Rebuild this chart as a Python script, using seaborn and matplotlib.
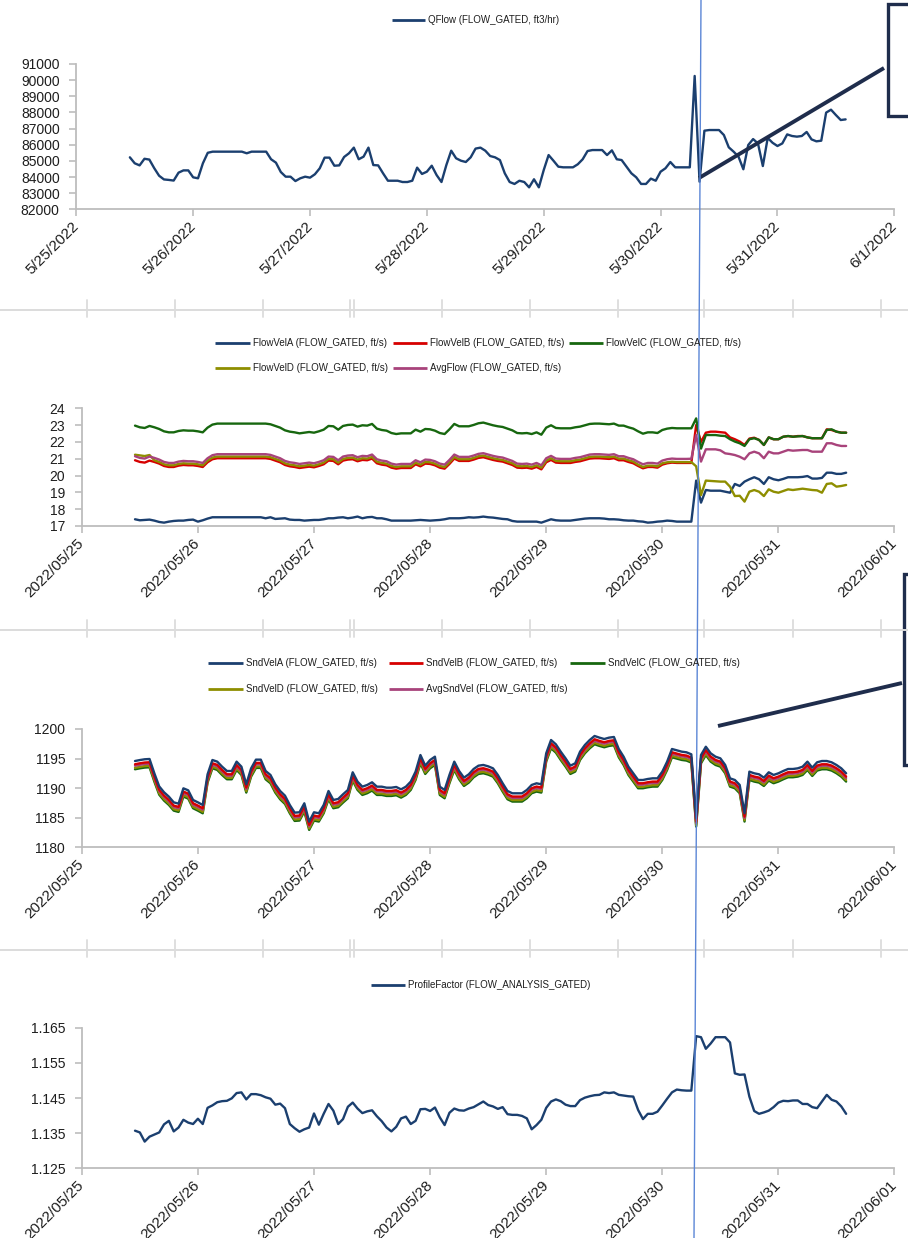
import pandas as pd
import matplotlib
matplotlib.use("Agg")
import matplotlib.pyplot as plt
import matplotlib.dates as mdates
from matplotlib.ticker import FuncFormatter
from matplotlib.patches import Rectangle
import seaborn as sns

sns.set_theme(style="white")
plt.rcParams["font.family"] = ["Liberation Sans", "DejaVu Sans"]

# ---------------------------------------------------------------- data
# hourly samples, first sample 2022-05-25 11:00
START = "2022-05-25 11:00"

qflow = [
    85220, 84850, 84720, 85130, 85080, 84550, 84080, 83850, 83820, 83780,
    84270, 84410, 84410, 83980, 83920, 84850, 85500, 85570, 85570, 85570,
    85570, 85570, 85570, 85570, 85470, 85570, 85570, 85570, 85570, 85100,
    84890, 84310, 84020, 84020, 83750, 83920, 84020, 83960, 84170, 84540,
    85200, 85200, 84700, 84720, 85240, 85470, 85820, 85100, 85260, 85820,
    84740, 84720, 84230, 83770, 83770, 83770, 83690, 83690, 83770, 84580,
    84190, 84330, 84700, 84120, 83690, 84740, 85630, 85160, 85010, 84930,
    85220, 85760, 85820, 85630, 85300, 85220, 85050, 84230, 83690, 83570,
    83770, 83690, 83360, 83860, 83360, 84430, 85360, 85010, 84640, 84600,
    84600, 84600, 84790, 85100, 85610, 85670, 85670, 85670, 85360, 85650,
    85100, 85050, 84640, 84230, 83980, 83570, 83570, 83900, 83770, 84330,
    84540, 84930, 84600, 84600, 84600, 84600, 90260, 83710, 86870, 86910,
    86910, 86910, 86600, 85840, 85570, 85260, 84480, 85980, 86350, 86080,
    84680, 86420, 86120, 85920, 86080, 86640, 86540, 86500, 86540, 86790,
    86330, 86210, 86250, 87990, 88170, 87840, 87530, 87570,
]

flow_vel_a = [
    17.40, 17.34, 17.36, 17.38, 17.32, 17.24, 17.20, 17.26, 17.30, 17.32,
    17.32, 17.36, 17.38, 17.26, 17.34, 17.44, 17.52, 17.52, 17.52, 17.52,
    17.52, 17.52, 17.52, 17.52, 17.52, 17.52, 17.52, 17.46, 17.52, 17.42,
    17.44, 17.46, 17.38, 17.36, 17.36, 17.32, 17.34, 17.36, 17.36, 17.40,
    17.46, 17.46, 17.50, 17.52, 17.46, 17.50, 17.56, 17.46, 17.52, 17.54,
    17.46, 17.46, 17.40, 17.32, 17.32, 17.32, 17.32, 17.32, 17.34, 17.36,
    17.34, 17.32, 17.34, 17.36, 17.40, 17.46, 17.46, 17.46, 17.48, 17.52,
    17.50, 17.52, 17.56, 17.52, 17.50, 17.46, 17.42, 17.40, 17.30, 17.26,
    17.26, 17.26, 17.26, 17.26, 17.20, 17.30, 17.40, 17.34, 17.32, 17.32,
    17.32, 17.36, 17.40, 17.44, 17.46, 17.46, 17.46, 17.44, 17.40, 17.40,
    17.38, 17.34, 17.32, 17.32, 17.28, 17.26, 17.20, 17.22, 17.26, 17.28,
    17.32, 17.30, 17.26, 17.26, 17.26, 17.26, 19.70, 18.39, 19.14, 19.10,
    19.10, 19.10, 19.04, 18.98, 19.50, 19.38, 19.64, 19.78, 19.90, 19.78,
    19.50, 19.90, 19.78, 19.72, 19.80, 19.90, 19.90, 19.90, 19.92, 19.97,
    19.82, 19.82, 19.86, 20.17, 20.17, 20.10, 20.10, 20.17,
]

flow_vel_b = [
    20.91, 20.81, 20.77, 20.89, 20.81, 20.71, 20.57, 20.51, 20.51, 20.59,
    20.63, 20.61, 20.61, 20.57, 20.51, 20.79, 20.97, 21.03, 21.03, 21.03,
    21.03, 21.03, 21.03, 21.03, 21.03, 21.03, 21.03, 21.03, 20.99, 20.89,
    20.79, 20.63, 20.55, 20.51, 20.45, 20.49, 20.53, 20.49, 20.57, 20.67,
    20.89, 20.87, 20.67, 20.89, 20.95, 20.97, 20.85, 20.93, 20.91, 21.01,
    20.73, 20.65, 20.61, 20.47, 20.41, 20.45, 20.45, 20.45, 20.67, 20.55,
    20.71, 20.69, 20.61, 20.47, 20.41, 20.69, 21.01, 20.87, 20.87, 20.87,
    20.95, 21.05, 21.09, 21.01, 20.93, 20.87, 20.83, 20.73, 20.63, 20.47,
    20.45, 20.47, 20.41, 20.51, 20.37, 20.79, 20.93, 20.77, 20.75, 20.75,
    20.75, 20.81, 20.85, 20.93, 21.01, 21.03, 21.03, 21.01, 20.99, 21.03,
    20.91, 20.91, 20.81, 20.73, 20.57, 20.43, 20.51, 20.51, 20.47, 20.65,
    20.73, 20.77, 20.75, 20.75, 20.75, 20.75, 23.00, 22.00, 22.55, 22.61,
    22.61, 22.58, 22.55, 22.27, 22.16, 22.02, 21.82, 22.20, 22.25, 22.12,
    21.82, 22.27, 22.16, 22.16, 22.31, 22.35, 22.31, 22.35, 22.35, 22.27,
    22.22, 22.22, 22.22, 22.75, 22.71, 22.61, 22.55, 22.55,
]

flow_vel_c = [
    22.97, 22.87, 22.83, 22.95, 22.87, 22.77, 22.63, 22.57, 22.57, 22.65,
    22.69, 22.67, 22.67, 22.63, 22.57, 22.85, 23.03, 23.09, 23.09, 23.09,
    23.09, 23.09, 23.09, 23.09, 23.09, 23.09, 23.09, 23.09, 23.05, 22.95,
    22.85, 22.69, 22.61, 22.57, 22.51, 22.55, 22.59, 22.55, 22.63, 22.73,
    22.95, 22.93, 22.73, 22.95, 23.01, 23.03, 22.91, 22.99, 22.97, 23.07,
    22.79, 22.71, 22.67, 22.53, 22.47, 22.51, 22.51, 22.51, 22.73, 22.61,
    22.77, 22.75, 22.67, 22.53, 22.47, 22.75, 23.07, 22.93, 22.93, 22.93,
    23.01, 23.11, 23.15, 23.07, 22.99, 22.93, 22.89, 22.79, 22.69, 22.53,
    22.51, 22.53, 22.47, 22.57, 22.43, 22.85, 22.99, 22.83, 22.81, 22.81,
    22.81, 22.87, 22.91, 22.99, 23.07, 23.09, 23.09, 23.07, 23.05, 23.09,
    22.97, 22.97, 22.87, 22.79, 22.63, 22.49, 22.57, 22.57, 22.53, 22.71,
    22.79, 22.83, 22.81, 22.81, 22.81, 22.81, 23.40, 21.60, 22.41, 22.41,
    22.41, 22.37, 22.35, 22.16, 22.02, 21.92, 21.76, 22.16, 22.22, 22.12,
    21.82, 22.27, 22.16, 22.16, 22.31, 22.35, 22.31, 22.33, 22.35, 22.27,
    22.22, 22.22, 22.22, 22.71, 22.75, 22.61, 22.55, 22.55,
]

flow_vel_d = [
    21.24, 21.20, 21.16, 21.22, 20.91, 20.81, 20.67, 20.61, 20.61, 20.69,
    20.73, 20.71, 20.71, 20.67, 20.61, 20.89, 21.07, 21.13, 21.13, 21.13,
    21.13, 21.13, 21.13, 21.13, 21.13, 21.13, 21.13, 21.13, 21.09, 20.99,
    20.89, 20.73, 20.65, 20.61, 20.55, 20.59, 20.63, 20.59, 20.67, 20.77,
    20.99, 20.97, 20.77, 20.99, 21.05, 21.07, 20.95, 21.03, 21.01, 21.11,
    20.83, 20.75, 20.71, 20.57, 20.51, 20.55, 20.55, 20.55, 20.77, 20.65,
    20.81, 20.79, 20.71, 20.57, 20.51, 20.79, 21.11, 20.97, 20.97, 20.97,
    21.05, 21.15, 21.19, 21.11, 21.03, 20.97, 20.93, 20.83, 20.73, 20.57,
    20.55, 20.57, 20.51, 20.61, 20.47, 20.89, 21.03, 20.87, 20.85, 20.85,
    20.85, 20.91, 20.95, 21.03, 21.11, 21.13, 21.13, 21.11, 21.09, 21.13,
    21.01, 21.01, 20.91, 20.83, 20.65, 20.51, 20.59, 20.59, 20.55, 20.73,
    20.79, 20.82, 20.80, 20.80, 20.80, 20.80, 20.55, 18.84, 19.70, 19.68,
    19.66, 19.64, 19.64, 19.34, 18.78, 18.80, 18.45, 19.04, 19.14, 19.04,
    18.78, 19.18, 19.04, 18.98, 19.08, 19.18, 19.14, 19.18, 19.22, 19.18,
    19.14, 19.12, 18.98, 19.50, 19.54, 19.34, 19.38, 19.44,
]

avg_flow = [
    21.15, 21.05, 21.01, 21.13, 21.05, 20.95, 20.81, 20.75, 20.75, 20.83,
    20.87, 20.85, 20.85, 20.81, 20.75, 21.03, 21.21, 21.27, 21.27, 21.27,
    21.27, 21.27, 21.27, 21.27, 21.27, 21.27, 21.27, 21.27, 21.23, 21.13,
    21.03, 20.87, 20.79, 20.75, 20.69, 20.73, 20.77, 20.73, 20.81, 20.91,
    21.13, 21.11, 20.91, 21.13, 21.19, 21.21, 21.09, 21.17, 21.15, 21.25,
    20.97, 20.89, 20.85, 20.71, 20.65, 20.69, 20.69, 20.69, 20.91, 20.79,
    20.95, 20.93, 20.85, 20.71, 20.65, 20.93, 21.25, 21.11, 21.11, 21.11,
    21.19, 21.29, 21.33, 21.25, 21.17, 21.11, 21.07, 20.97, 20.87, 20.71,
    20.69, 20.71, 20.65, 20.75, 20.61, 21.03, 21.17, 21.01, 20.99, 20.99,
    20.99, 21.05, 21.09, 21.17, 21.25, 21.27, 21.27, 21.25, 21.23, 21.27,
    21.15, 21.15, 21.05, 20.97, 20.81, 20.67, 20.75, 20.75, 20.71, 20.89,
    20.97, 21.01, 20.99, 20.99, 20.99, 21.00, 22.41, 20.83, 21.56, 21.56,
    21.56, 21.50, 21.32, 21.28, 21.22, 21.12, 20.97, 21.32, 21.42, 21.32,
    21.03, 21.42, 21.32, 21.32, 21.42, 21.52, 21.48, 21.50, 21.52, 21.52,
    21.42, 21.42, 21.42, 21.92, 21.92, 21.82, 21.76, 21.76,
]

snd_vel_a = [
    1194.59, 1194.75, 1194.88, 1194.93, 1192.50, 1190.30, 1189.30, 1188.56, 1187.60, 1187.38,
    1189.97, 1189.63, 1188.00, 1187.60, 1187.15, 1192.34, 1194.76, 1194.48, 1193.63, 1192.90,
    1192.90, 1194.48, 1193.63, 1190.65, 1193.35, 1194.82, 1194.82, 1192.90, 1192.23, 1190.65,
    1189.52, 1188.73, 1187.15, 1185.86, 1185.92, 1187.44, 1184.34, 1185.92, 1185.75, 1187.15,
    1189.52, 1188.00, 1188.17, 1188.96, 1189.69, 1192.68, 1191.10, 1190.25, 1190.54, 1190.99,
    1190.25, 1190.25, 1190.08, 1190.08, 1190.20, 1189.80, 1190.25, 1191.10, 1192.79, 1195.60,
    1193.80, 1194.76, 1195.32, 1190.25, 1189.69, 1192.23, 1194.48, 1192.90, 1191.77, 1192.34,
    1193.24, 1193.80, 1193.92, 1193.69, 1193.35, 1192.23, 1190.82, 1189.52, 1189.13, 1189.13,
    1189.13, 1189.69, 1190.54, 1190.82, 1190.65, 1195.89, 1198.14, 1197.41, 1196.17, 1195.04,
    1193.80, 1194.20, 1196.17, 1197.30, 1198.14, 1198.82, 1198.54, 1198.31, 1198.54, 1198.65,
    1196.62, 1195.32, 1193.63, 1192.51, 1191.38, 1191.38, 1191.55, 1191.66, 1191.66, 1192.79,
    1194.48, 1196.62, 1196.39, 1196.17, 1196.06, 1195.72, 1184.90, 1195.60, 1197.00, 1195.89,
    1195.32, 1195.04, 1193.92, 1191.66, 1191.38, 1190.54, 1185.75, 1192.79, 1192.51, 1192.34,
    1191.77, 1192.68, 1192.23, 1192.51, 1192.90, 1193.24, 1193.24, 1193.35, 1193.63, 1194.48,
    1193.46, 1194.37, 1194.59, 1194.59, 1194.37, 1193.92, 1193.35, 1192.51,
]

snd_vel_b = [
    1194.04, 1194.20, 1194.33, 1194.38, 1191.95, 1189.75, 1188.75, 1188.01, 1187.05, 1186.83,
    1189.42, 1189.08, 1187.45, 1187.05, 1186.60, 1191.79, 1194.21, 1193.93, 1193.08, 1192.35,
    1192.35, 1193.93, 1193.08, 1190.10, 1192.80, 1194.27, 1194.27, 1192.35, 1191.68, 1190.10,
    1188.97, 1188.18, 1186.60, 1185.31, 1185.37, 1186.89, 1183.79, 1185.37, 1185.20, 1186.60,
    1188.97, 1187.45, 1187.62, 1188.41, 1189.14, 1192.13, 1190.55, 1189.70, 1189.99, 1190.44,
    1189.70, 1189.70, 1189.53, 1189.53, 1189.65, 1189.25, 1189.70, 1190.55, 1192.24, 1195.05,
    1193.25, 1194.21, 1194.77, 1189.70, 1189.14, 1191.68, 1193.93, 1192.35, 1191.22, 1191.79,
    1192.69, 1193.25, 1193.37, 1193.14, 1192.80, 1191.68, 1190.27, 1188.97, 1188.58, 1188.58,
    1188.58, 1189.14, 1189.99, 1190.27, 1190.10, 1195.34, 1197.59, 1196.86, 1195.62, 1194.49,
    1193.25, 1193.65, 1195.62, 1196.75, 1197.59, 1198.27, 1197.99, 1197.76, 1197.99, 1198.10,
    1196.07, 1194.77, 1193.08, 1191.96, 1190.83, 1190.83, 1191.00, 1191.11, 1191.11, 1192.24,
    1193.93, 1196.07, 1195.84, 1195.62, 1195.51, 1195.17, 1184.35, 1195.05, 1196.45, 1195.34,
    1194.77, 1194.49, 1193.37, 1191.11, 1190.83, 1189.99, 1185.20, 1192.24, 1191.96, 1191.79,
    1191.22, 1192.13, 1191.68, 1191.96, 1192.35, 1192.69, 1192.69, 1192.80, 1193.08, 1193.93,
    1192.91, 1193.82, 1194.04, 1194.04, 1193.82, 1193.37, 1192.80, 1191.96,
]

snd_vel_c = [
    1193.19, 1193.35, 1193.48, 1193.53, 1191.10, 1188.90, 1187.90, 1187.16, 1186.20, 1185.98,
    1188.57, 1188.23, 1186.60, 1186.20, 1185.75, 1190.94, 1193.36, 1193.08, 1192.23, 1191.50,
    1191.50, 1193.08, 1192.23, 1189.25, 1191.95, 1193.42, 1193.42, 1191.50, 1190.83, 1189.25,
    1188.12, 1187.33, 1185.75, 1184.46, 1184.52, 1186.04, 1182.94, 1184.52, 1184.35, 1185.75,
    1188.12, 1186.60, 1186.77, 1187.56, 1188.29, 1191.28, 1189.70, 1188.85, 1189.14, 1189.59,
    1188.85, 1188.85, 1188.68, 1188.68, 1188.80, 1188.40, 1188.85, 1189.70, 1191.39, 1194.20,
    1192.40, 1193.36, 1193.92, 1188.85, 1188.29, 1190.83, 1193.08, 1191.50, 1190.37, 1190.94,
    1191.84, 1192.40, 1192.52, 1192.29, 1191.95, 1190.83, 1189.42, 1188.12, 1187.73, 1187.73,
    1187.73, 1188.29, 1189.14, 1189.42, 1189.25, 1194.49, 1196.74, 1196.01, 1194.77, 1193.64,
    1192.40, 1192.80, 1194.77, 1195.90, 1196.74, 1197.42, 1197.14, 1196.91, 1197.14, 1197.25,
    1195.22, 1193.92, 1192.23, 1191.11, 1189.98, 1189.98, 1190.15, 1190.26, 1190.26, 1191.39,
    1193.08, 1195.22, 1194.99, 1194.77, 1194.66, 1194.32, 1183.50, 1194.20, 1195.60, 1194.49,
    1193.92, 1193.64, 1192.52, 1190.26, 1189.98, 1189.14, 1184.35, 1191.39, 1191.11, 1190.94,
    1190.37, 1191.28, 1190.83, 1191.11, 1191.50, 1191.84, 1191.84, 1191.95, 1192.23, 1193.08,
    1192.06, 1192.97, 1193.19, 1193.19, 1192.97, 1192.52, 1191.95, 1191.11,
]

snd_vel_d = [
    1193.44, 1193.60, 1193.73, 1193.78, 1191.35, 1189.15, 1188.15, 1187.41, 1186.45, 1186.23,
    1188.82, 1188.48, 1186.85, 1186.45, 1186.00, 1191.19, 1193.61, 1193.33, 1192.48, 1191.75,
    1191.75, 1193.33, 1192.48, 1189.50, 1192.20, 1193.67, 1193.67, 1191.75, 1191.08, 1189.50,
    1188.37, 1187.58, 1186.00, 1184.71, 1184.77, 1186.29, 1183.19, 1184.77, 1184.60, 1186.00,
    1188.37, 1186.85, 1187.02, 1187.81, 1188.54, 1191.53, 1189.95, 1189.10, 1189.39, 1189.84,
    1189.10, 1189.10, 1188.93, 1188.93, 1189.05, 1188.65, 1189.10, 1189.95, 1191.64, 1194.45,
    1192.65, 1193.61, 1194.17, 1189.10, 1188.54, 1191.08, 1193.33, 1191.75, 1190.62, 1191.19,
    1192.09, 1192.65, 1192.77, 1192.54, 1192.20, 1191.08, 1189.67, 1188.37, 1187.98, 1187.98,
    1187.98, 1188.54, 1189.39, 1189.67, 1189.50, 1194.74, 1196.99, 1196.26, 1195.02, 1193.89,
    1192.65, 1193.05, 1195.02, 1196.15, 1196.99, 1197.67, 1197.39, 1197.16, 1197.39, 1197.50,
    1195.47, 1194.17, 1192.48, 1191.36, 1190.23, 1190.23, 1190.40, 1190.51, 1190.51, 1191.64,
    1193.33, 1195.47, 1195.24, 1195.02, 1194.91, 1194.57, 1183.75, 1194.45, 1195.85, 1194.74,
    1194.17, 1193.89, 1192.77, 1190.51, 1190.23, 1189.39, 1184.60, 1191.64, 1191.36, 1191.19,
    1190.62, 1191.53, 1191.08, 1191.36, 1191.75, 1192.09, 1192.09, 1192.20, 1192.48, 1193.33,
    1192.31, 1193.22, 1193.44, 1193.44, 1193.22, 1192.77, 1192.20, 1191.36,
]

avg_snd_vel = [
    1193.79, 1193.95, 1194.08, 1194.13, 1191.70, 1189.50, 1188.50, 1187.76, 1186.80, 1186.58,
    1189.17, 1188.83, 1187.20, 1186.80, 1186.35, 1191.54, 1193.96, 1193.68, 1192.83, 1192.10,
    1192.10, 1193.68, 1192.83, 1189.85, 1192.55, 1194.02, 1194.02, 1192.10, 1191.43, 1189.85,
    1188.72, 1187.93, 1186.35, 1185.06, 1185.12, 1186.64, 1183.54, 1185.12, 1184.95, 1186.35,
    1188.72, 1187.20, 1187.37, 1188.16, 1188.89, 1191.88, 1190.30, 1189.45, 1189.74, 1190.19,
    1189.45, 1189.45, 1189.28, 1189.28, 1189.40, 1189.00, 1189.45, 1190.30, 1191.99, 1194.80,
    1193.00, 1193.96, 1194.52, 1189.45, 1188.89, 1191.43, 1193.68, 1192.10, 1190.97, 1191.54,
    1192.44, 1193.00, 1193.12, 1192.89, 1192.55, 1191.43, 1190.02, 1188.72, 1188.33, 1188.33,
    1188.33, 1188.89, 1189.74, 1190.02, 1189.85, 1195.09, 1197.34, 1196.61, 1195.37, 1194.24,
    1193.00, 1193.40, 1195.37, 1196.50, 1197.34, 1198.02, 1197.74, 1197.51, 1197.74, 1197.85,
    1195.82, 1194.52, 1192.83, 1191.71, 1190.58, 1190.58, 1190.75, 1190.86, 1190.86, 1191.99,
    1193.68, 1195.82, 1195.59, 1195.37, 1195.26, 1194.92, 1184.10, 1194.80, 1196.20, 1195.09,
    1194.52, 1194.24, 1193.12, 1190.86, 1190.58, 1189.74, 1184.95, 1191.99, 1191.71, 1191.54,
    1190.97, 1191.88, 1191.43, 1191.71, 1192.10, 1192.44, 1192.44, 1192.55, 1192.83, 1193.68,
    1192.66, 1193.57, 1193.79, 1193.79, 1193.57, 1193.12, 1192.55, 1191.71,
]

profile_factor = [
    1.1357, 1.1352, 1.1326, 1.1340, 1.1346, 1.1352, 1.1375, 1.1385, 1.1355, 1.1366,
    1.1388, 1.1380, 1.1376, 1.1391, 1.1376, 1.1422, 1.1429, 1.1438, 1.1441, 1.1442,
    1.1449, 1.1464, 1.1466, 1.1446, 1.1461, 1.1461, 1.1458, 1.1452, 1.1448, 1.1431,
    1.1434, 1.1421, 1.1376, 1.1364, 1.1354, 1.1361, 1.1366, 1.1406, 1.1374, 1.1405,
    1.1433, 1.1414, 1.1376, 1.1390, 1.1425, 1.1437, 1.1420, 1.1407, 1.1412, 1.1415,
    1.1398, 1.1384, 1.1366, 1.1355, 1.1368, 1.1392, 1.1397, 1.1376, 1.1385, 1.1418,
    1.1419, 1.1413, 1.1423, 1.1395, 1.1373, 1.1408, 1.1420, 1.1415, 1.1414, 1.1420,
    1.1424, 1.1432, 1.1440, 1.1430, 1.1426, 1.1419, 1.1424, 1.1404, 1.1402, 1.1402,
    1.1399, 1.1392, 1.1361, 1.1373, 1.1388, 1.1422, 1.1440, 1.1446, 1.1441, 1.1431,
    1.1427, 1.1427, 1.1444, 1.1451, 1.1455, 1.1458, 1.1459, 1.1466, 1.1464, 1.1466,
    1.1459, 1.1457, 1.1455, 1.1454, 1.1416, 1.1390, 1.1405, 1.1405, 1.1411, 1.1429,
    1.1448, 1.1466, 1.1474, 1.1472, 1.1471, 1.1471, 1.1626, 1.1623, 1.1590, 1.1605,
    1.1623, 1.1623, 1.1623, 1.1608, 1.1520, 1.1516, 1.1517, 1.1454, 1.1413, 1.1405,
    1.1409, 1.1414, 1.1424, 1.1437, 1.1442, 1.1441, 1.1443, 1.1443, 1.1433, 1.1433,
    1.1424, 1.1421, 1.1440, 1.1459, 1.1445, 1.1440, 1.1426, 1.1405,
]

# ---------------------------------------------------------------- style
NAVY = "#1b3f6f"
RED = "#d60000"
GREEN = "#17670f"
OLIVE = "#8e8e00"
PINK = "#a8437b"
AXIS = "#bdbdbd"
TXT = "#1e1e1e"
ANNOT = "#1f2d4c"
CURSOR = "#5b86d6"
GRIDCELL = "#dcdcdc"

W, H = 908, 1238
fig = plt.figure(figsize=(W / 100, H / 100), dpi=100)
fig.patch.set_facecolor("white")


def rect(l, t, r, b):
    return [l / W, 1 - b / H, (r - l) / W, (b - t) / H]


def frame(series):
    return pd.DataFrame({"time": pd.date_range(START, periods=len(series), freq="h"),
                         "value": series})


def draw(ax, series, color):
    sns.lineplot(data=frame(series), x="time", y="value", ax=ax, color=color,
                 linewidth=1.7, legend=False, solid_joinstyle="round")


def style(ax, ylim, yticks, yfmt, dfmt):
    ax.set_xlim(pd.Timestamp("2022-05-25"), pd.Timestamp("2022-06-01"))
    ax.set_ylim(*ylim)
    ax.set_yticks(yticks)
    ax.yaxis.set_major_formatter(FuncFormatter(yfmt))
    ax.xaxis.set_major_locator(mdates.DayLocator())
    ax.xaxis.set_major_formatter(FuncFormatter(lambda v, p: dfmt(mdates.num2date(v))))
    for s in ("top", "right"):
        ax.spines[s].set_visible(False)
    for s in ("left", "bottom"):
        ax.spines[s].set_color(AXIS)
        ax.spines[s].set_linewidth(1.3)
    ax.tick_params(axis="both", which="major", direction="out", length=5, width=1.2,
                   color=AXIS, labelcolor=TXT, left=True, bottom=True)
    ax.tick_params(axis="y", labelsize=10, pad=7)
    ax.tick_params(axis="x", labelsize=11, pad=6)
    ax.set_xlabel("")
    ax.set_ylabel("")
    ax.grid(False)
    ax.patch.set_alpha(0)
    for lab in ax.get_xticklabels():
        lab.set_rotation(45)
        lab.set_ha("right")
        lab.set_va("center")
        lab.set_rotation_mode("anchor")


us_date = lambda d: f"{d.month}/{d.day}/{d.year}"
iso_date = lambda d: d.strftime("%Y/%m/%d")

# panel 1: QFlow
ax1 = fig.add_axes(rect(76.3, 64, 894.3, 209.3))
draw(ax1, qflow, NAVY)
style(ax1, (82000, 91000), range(82000, 91001, 1000), lambda v, p: f"{v:.0f}", us_date)

# panel 2: flow velocities
ax2 = fig.add_axes(rect(81.8, 408.3, 894.5, 526))
for s, c in ((flow_vel_a, NAVY), (flow_vel_b, RED), (flow_vel_c, GREEN),
             (flow_vel_d, OLIVE), (avg_flow, PINK)):
    draw(ax2, s, c)
style(ax2, (17, 24), range(17, 25), lambda v, p: f"{v:.0f}", iso_date)

# panel 3: sound velocities
ax3 = fig.add_axes(rect(81.8, 729, 894.5, 847.3))
for s, c in ((snd_vel_c, GREEN), (snd_vel_d, OLIVE), (avg_snd_vel, PINK),
             (snd_vel_b, RED), (snd_vel_a, NAVY)):
    draw(ax3, s, c)
style(ax3, (1180, 1200), range(1180, 1201, 5), lambda v, p: f"{v:.0f}", iso_date)

# panel 4: profile factor
ax4 = fig.add_axes(rect(81.8, 1027.7, 894.5, 1168.3))
draw(ax4, profile_factor, NAVY)
style(ax4, (1.125, 1.165), [1.125, 1.135, 1.145, 1.155, 1.165],
      lambda v, p: f"{v:.3f}", iso_date)

# ---------------------------------------------------------------- overlay (pixel space)
ov = fig.add_axes([0, 0, 1, 1], zorder=10)
ov.set_xlim(0, W)
ov.set_ylim(H, 0)
ov.axis("off")
ov.patch.set_alpha(0)


def legend_entry(x0, x1, y, color, label):
    ov.plot([x0, x1], [y, y], color=color, lw=2.0, solid_capstyle="butt")
    ov.text(x1 + 3, y, label, fontsize=7, va="center", ha="left", color=TXT)


legend_entry(392, 425, 20, NAVY, "QFlow (FLOW_GATED, ft3/hr)")

legend_entry(215, 250, 343, NAVY, "FlowVelA (FLOW_GATED, ft/s)")
legend_entry(393, 427, 343, RED, "FlowVelB (FLOW_GATED, ft/s)")
legend_entry(569, 603, 343, GREEN, "FlowVelC (FLOW_GATED, ft/s)")
legend_entry(215, 250, 368, OLIVE, "FlowVelD (FLOW_GATED, ft/s)")
legend_entry(393, 427, 368, PINK, "AvgFlow (FLOW_GATED, ft/s)")

legend_entry(208, 243, 663, NAVY, "SndVelA (FLOW_GATED, ft/s)")
legend_entry(389, 423, 663, RED, "SndVelB (FLOW_GATED, ft/s)")
legend_entry(570, 605, 663, GREEN, "SndVelC (FLOW_GATED, ft/s)")
legend_entry(208, 243, 689, OLIVE, "SndVelD (FLOW_GATED, ft/s)")
legend_entry(389, 423, 689, PINK, "AvgSndVel (FLOW_GATED, ft/s)")

legend_entry(371, 405, 985, NAVY, "ProfileFactor (FLOW_ANALYSIS_GATED)")

# worksheet cell borders between the charts
cols = [87, 175, 263, 350, 354, 442, 530, 618, 704, 793, 881]
for yl in (310, 630, 950):
    ov.plot([0, W], [yl, yl], color=GRIDCELL, lw=1.4)
    for xc in cols:
        ov.plot([xc, xc], [yl - 10, yl + 7], color=GRIDCELL, lw=1.3)

# annotation callouts
ov.plot([699, 884], [178, 68], color=ANNOT, lw=2.8, solid_capstyle="butt")
ov.add_patch(Rectangle((888, 4), 40, 112, facecolor="white", edgecolor=ANNOT, lw=2.4))
ov.plot([718, 902], [726, 683], color=ANNOT, lw=2.8, solid_capstyle="butt")
ov.add_patch(Rectangle((904, 574), 40, 191, facecolor="white", edgecolor=ANNOT, lw=2.4))

# time cursor
ov.plot([701, 694], [0, H], color=CURSOR, lw=1.0)

fig.savefig("out.png", dpi=100, facecolor="white")
